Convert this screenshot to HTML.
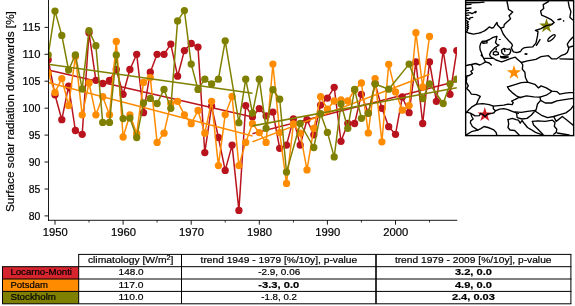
<!DOCTYPE html>
<html><head><meta charset="utf-8"><title>Surface solar radiation</title>
<style>
html,body{margin:0;padding:0;background:#fff;}
svg{display:block;font-family:"Liberation Sans",sans-serif;will-change:transform;}
</style></head><body>
<svg width="575" height="306" viewBox="0 0 575 306">
<rect x="0" y="0" width="575" height="306" fill="#fff"/>
<defs><clipPath id="pa"><rect x="48.5" y="0" width="408.5" height="220.3"/></clipPath>
<clipPath id="mp"><rect x="466" y="1" width="107.5" height="134.5"/></clipPath></defs>
<g clip-path="url(#pa)">
<polyline points="48.2,59.7 55.0,94.8 61.8,119.7 68.6,86.2 75.4,130.5 82.2,134.3 89.0,32.7 95.9,80.3 102.7,83.5 109.5,80.3 116.3,69.5 123.1,94.3 129.9,69.5 136.7,54.3 143.5,112.7 150.3,72.2 157.1,54.3 164.0,54.3 170.8,44.1 177.6,76.2 184.4,50.6 191.2,43.5 198.0,47.1 204.8,152.6 211.6,106.2 218.4,137.5 225.2,170.4 232.1,145.1 238.9,210.4 245.7,105.6 252.5,117.0 259.3,108.6 266.1,115.9 272.9,112.1 279.7,148.3 286.5,145.1 293.4,118.9 300.2,145.1 307.0,119.7 313.8,134.8 320.6,105.1 327.4,98.1 334.2,87.3 341.0,141.3 347.8,123.5 354.6,123.5 361.4,94.3 368.3,113.2 375.1,83.5 381.9,108.3 388.7,126.7 395.5,134.3 402.3,97.0 409.1,112.7 415.9,61.9 422.7,123.5 429.5,61.9 436.4,101.3 443.2,50.6 450.0,94.3 456.8,50.6" fill="none" stroke="#b9141d" stroke-width="1.5" stroke-linejoin="round"/>
<g fill="#b9141d"><circle cx="48.2" cy="59.7" r="3.65"/><circle cx="55.0" cy="94.8" r="3.65"/><circle cx="61.8" cy="119.7" r="3.65"/><circle cx="68.6" cy="86.2" r="3.65"/><circle cx="75.4" cy="130.5" r="3.65"/><circle cx="82.2" cy="134.3" r="3.65"/><circle cx="89.0" cy="32.7" r="3.65"/><circle cx="95.9" cy="80.3" r="3.65"/><circle cx="102.7" cy="83.5" r="3.65"/><circle cx="109.5" cy="80.3" r="3.65"/><circle cx="116.3" cy="69.5" r="3.65"/><circle cx="123.1" cy="94.3" r="3.65"/><circle cx="129.9" cy="69.5" r="3.65"/><circle cx="136.7" cy="54.3" r="3.65"/><circle cx="143.5" cy="112.7" r="3.65"/><circle cx="150.3" cy="72.2" r="3.65"/><circle cx="157.1" cy="54.3" r="3.65"/><circle cx="164.0" cy="54.3" r="3.65"/><circle cx="170.8" cy="44.1" r="3.65"/><circle cx="177.6" cy="76.2" r="3.65"/><circle cx="184.4" cy="50.6" r="3.65"/><circle cx="191.2" cy="43.5" r="3.65"/><circle cx="198.0" cy="47.1" r="3.65"/><circle cx="204.8" cy="152.6" r="3.65"/><circle cx="211.6" cy="106.2" r="3.65"/><circle cx="218.4" cy="137.5" r="3.65"/><circle cx="225.2" cy="170.4" r="3.65"/><circle cx="232.1" cy="145.1" r="3.65"/><circle cx="238.9" cy="210.4" r="3.65"/><circle cx="245.7" cy="105.6" r="3.65"/><circle cx="252.5" cy="117.0" r="3.65"/><circle cx="259.3" cy="108.6" r="3.65"/><circle cx="266.1" cy="115.9" r="3.65"/><circle cx="272.9" cy="112.1" r="3.65"/><circle cx="279.7" cy="148.3" r="3.65"/><circle cx="286.5" cy="145.1" r="3.65"/><circle cx="293.4" cy="118.9" r="3.65"/><circle cx="300.2" cy="145.1" r="3.65"/><circle cx="307.0" cy="119.7" r="3.65"/><circle cx="313.8" cy="134.8" r="3.65"/><circle cx="320.6" cy="105.1" r="3.65"/><circle cx="327.4" cy="98.1" r="3.65"/><circle cx="334.2" cy="87.3" r="3.65"/><circle cx="341.0" cy="141.3" r="3.65"/><circle cx="347.8" cy="123.5" r="3.65"/><circle cx="354.6" cy="123.5" r="3.65"/><circle cx="361.4" cy="94.3" r="3.65"/><circle cx="368.3" cy="113.2" r="3.65"/><circle cx="375.1" cy="83.5" r="3.65"/><circle cx="381.9" cy="108.3" r="3.65"/><circle cx="388.7" cy="126.7" r="3.65"/><circle cx="395.5" cy="134.3" r="3.65"/><circle cx="402.3" cy="97.0" r="3.65"/><circle cx="409.1" cy="112.7" r="3.65"/><circle cx="415.9" cy="61.9" r="3.65"/><circle cx="422.7" cy="123.5" r="3.65"/><circle cx="429.5" cy="61.9" r="3.65"/><circle cx="436.4" cy="101.3" r="3.65"/><circle cx="443.2" cy="50.6" r="3.65"/><circle cx="450.0" cy="94.3" r="3.65"/><circle cx="456.8" cy="50.6" r="3.65"/></g>
<line x1="48.2" y1="70.0" x2="252.5" y2="117.0" stroke="#b9141d" stroke-width="1.5"/>
<line x1="252.5" y1="133.7" x2="456.8" y2="81.3" stroke="#b9141d" stroke-width="1.5"/>
<polyline points="48.2,73.2 55.0,92.4 61.8,78.6 68.6,105.6 75.4,56.5 82.2,114.8 89.0,83.0 95.9,114.8 102.7,96.7 109.5,114.8 116.3,41.4 123.1,137.0 129.9,114.8 136.7,133.7 143.5,82.4 150.3,77.6 157.1,142.4 164.0,133.2 170.8,103.5 177.6,101.3 184.4,114.8 191.2,123.7 198.0,110.5 204.8,133.2 211.6,101.3 218.4,165.6 225.2,114.6 232.1,96.5 238.9,165.6 245.7,142.4 252.5,123.7 259.3,132.6 266.1,142.4 272.9,64.1 279.7,132.6 286.5,183.4 293.4,124.0 300.2,133.2 307.0,169.9 313.8,128.3 320.6,96.7 327.4,109.2 334.2,101.0 341.0,100.0 347.8,101.0 354.6,90.0 361.4,83.0 368.3,132.9 375.1,78.6 381.9,141.8 388.7,64.3 395.5,91.9 402.3,110.2 409.1,105.6 415.9,32.7 422.7,87.0 429.5,36.5" fill="none" stroke="#ff8c00" stroke-width="1.5" stroke-linejoin="round"/>
<g fill="#ff8c00"><circle cx="48.2" cy="73.2" r="3.65"/><circle cx="55.0" cy="92.4" r="3.65"/><circle cx="61.8" cy="78.6" r="3.65"/><circle cx="68.6" cy="105.6" r="3.65"/><circle cx="75.4" cy="56.5" r="3.65"/><circle cx="82.2" cy="114.8" r="3.65"/><circle cx="89.0" cy="83.0" r="3.65"/><circle cx="95.9" cy="114.8" r="3.65"/><circle cx="102.7" cy="96.7" r="3.65"/><circle cx="109.5" cy="114.8" r="3.65"/><circle cx="116.3" cy="41.4" r="3.65"/><circle cx="123.1" cy="137.0" r="3.65"/><circle cx="129.9" cy="114.8" r="3.65"/><circle cx="136.7" cy="133.7" r="3.65"/><circle cx="143.5" cy="82.4" r="3.65"/><circle cx="150.3" cy="77.6" r="3.65"/><circle cx="157.1" cy="142.4" r="3.65"/><circle cx="164.0" cy="133.2" r="3.65"/><circle cx="170.8" cy="103.5" r="3.65"/><circle cx="177.6" cy="101.3" r="3.65"/><circle cx="184.4" cy="114.8" r="3.65"/><circle cx="191.2" cy="123.7" r="3.65"/><circle cx="198.0" cy="110.5" r="3.65"/><circle cx="204.8" cy="133.2" r="3.65"/><circle cx="211.6" cy="101.3" r="3.65"/><circle cx="218.4" cy="165.6" r="3.65"/><circle cx="225.2" cy="114.6" r="3.65"/><circle cx="232.1" cy="96.5" r="3.65"/><circle cx="238.9" cy="165.6" r="3.65"/><circle cx="245.7" cy="142.4" r="3.65"/><circle cx="252.5" cy="123.7" r="3.65"/><circle cx="259.3" cy="132.6" r="3.65"/><circle cx="266.1" cy="142.4" r="3.65"/><circle cx="272.9" cy="64.1" r="3.65"/><circle cx="279.7" cy="132.6" r="3.65"/><circle cx="286.5" cy="183.4" r="3.65"/><circle cx="293.4" cy="124.0" r="3.65"/><circle cx="300.2" cy="133.2" r="3.65"/><circle cx="307.0" cy="169.9" r="3.65"/><circle cx="313.8" cy="128.3" r="3.65"/><circle cx="320.6" cy="96.7" r="3.65"/><circle cx="327.4" cy="109.2" r="3.65"/><circle cx="334.2" cy="101.0" r="3.65"/><circle cx="341.0" cy="100.0" r="3.65"/><circle cx="347.8" cy="101.0" r="3.65"/><circle cx="354.6" cy="90.0" r="3.65"/><circle cx="361.4" cy="83.0" r="3.65"/><circle cx="368.3" cy="132.9" r="3.65"/><circle cx="375.1" cy="78.6" r="3.65"/><circle cx="381.9" cy="141.8" r="3.65"/><circle cx="388.7" cy="64.3" r="3.65"/><circle cx="395.5" cy="91.9" r="3.65"/><circle cx="402.3" cy="110.2" r="3.65"/><circle cx="409.1" cy="105.6" r="3.65"/><circle cx="415.9" cy="32.7" r="3.65"/><circle cx="422.7" cy="87.0" r="3.65"/><circle cx="429.5" cy="36.5" r="3.65"/></g>
<line x1="48.2" y1="82.4" x2="252.5" y2="135.9" stroke="#ff8c00" stroke-width="1.5"/>
<line x1="252.5" y1="141.8" x2="429.5" y2="74.3" stroke="#ff8c00" stroke-width="1.5"/>
<polyline points="48.2,54.9 55.0,11.1 61.8,35.4 68.6,70.0 75.4,54.9 82.2,88.9 89.0,30.6 95.9,45.7 102.7,122.4 109.5,122.4 116.3,54.9 123.1,118.6 129.9,118.1 136.7,137.5 143.5,102.9 150.3,98.4 157.1,103.5 164.0,89.4 170.8,108.3 177.6,20.9 184.4,10.6 191.2,64.1 198.0,89.4 204.8,79.2 211.6,84.0 218.4,79.2 225.2,40.8 238.9,122.7 245.7,79.2 252.5,113.2 259.3,79.2 266.1,128.3 272.9,89.7 279.7,99.2 286.5,172.1 300.2,123.5 313.8,147.5 320.6,113.7 327.4,132.4 334.2,156.9 341.0,103.8 347.8,128.3 354.6,89.4 361.4,118.3 368.3,113.2 375.1,84.0 388.7,89.2 409.1,64.1 422.7,98.6 429.5,83.8 443.2,103.5 450.0,84.0 456.8,79.2" fill="none" stroke="#808000" stroke-width="1.5" stroke-linejoin="round"/>
<g fill="#808000"><circle cx="48.2" cy="54.9" r="3.65"/><circle cx="55.0" cy="11.1" r="3.65"/><circle cx="61.8" cy="35.4" r="3.65"/><circle cx="68.6" cy="70.0" r="3.65"/><circle cx="75.4" cy="54.9" r="3.65"/><circle cx="82.2" cy="88.9" r="3.65"/><circle cx="89.0" cy="30.6" r="3.65"/><circle cx="95.9" cy="45.7" r="3.65"/><circle cx="102.7" cy="122.4" r="3.65"/><circle cx="109.5" cy="122.4" r="3.65"/><circle cx="116.3" cy="54.9" r="3.65"/><circle cx="123.1" cy="118.6" r="3.65"/><circle cx="129.9" cy="118.1" r="3.65"/><circle cx="136.7" cy="137.5" r="3.65"/><circle cx="143.5" cy="102.9" r="3.65"/><circle cx="150.3" cy="98.4" r="3.65"/><circle cx="157.1" cy="103.5" r="3.65"/><circle cx="164.0" cy="89.4" r="3.65"/><circle cx="170.8" cy="108.3" r="3.65"/><circle cx="177.6" cy="20.9" r="3.65"/><circle cx="184.4" cy="10.6" r="3.65"/><circle cx="191.2" cy="64.1" r="3.65"/><circle cx="198.0" cy="89.4" r="3.65"/><circle cx="204.8" cy="79.2" r="3.65"/><circle cx="211.6" cy="84.0" r="3.65"/><circle cx="218.4" cy="79.2" r="3.65"/><circle cx="225.2" cy="40.8" r="3.65"/><circle cx="238.9" cy="122.7" r="3.65"/><circle cx="245.7" cy="79.2" r="3.65"/><circle cx="252.5" cy="113.2" r="3.65"/><circle cx="259.3" cy="79.2" r="3.65"/><circle cx="266.1" cy="128.3" r="3.65"/><circle cx="272.9" cy="89.7" r="3.65"/><circle cx="279.7" cy="99.2" r="3.65"/><circle cx="286.5" cy="172.1" r="3.65"/><circle cx="300.2" cy="123.5" r="3.65"/><circle cx="313.8" cy="147.5" r="3.65"/><circle cx="320.6" cy="113.7" r="3.65"/><circle cx="327.4" cy="132.4" r="3.65"/><circle cx="334.2" cy="156.9" r="3.65"/><circle cx="341.0" cy="103.8" r="3.65"/><circle cx="347.8" cy="128.3" r="3.65"/><circle cx="354.6" cy="89.4" r="3.65"/><circle cx="361.4" cy="118.3" r="3.65"/><circle cx="368.3" cy="113.2" r="3.65"/><circle cx="375.1" cy="84.0" r="3.65"/><circle cx="388.7" cy="89.2" r="3.65"/><circle cx="409.1" cy="64.1" r="3.65"/><circle cx="422.7" cy="98.6" r="3.65"/><circle cx="429.5" cy="83.8" r="3.65"/><circle cx="443.2" cy="103.5" r="3.65"/><circle cx="450.0" cy="84.0" r="3.65"/><circle cx="456.8" cy="79.2" r="3.65"/></g>
<line x1="48.2" y1="64.3" x2="252.5" y2="93.2" stroke="#808000" stroke-width="1.5"/>
<line x1="252.5" y1="125.9" x2="456.8" y2="87.8" stroke="#808000" stroke-width="1.5"/>
</g>
<g stroke="#000" stroke-width="0.9" fill="none">
<line x1="48.5" y1="0" x2="48.5" y2="220.8"/>
<line x1="48.0" y1="220.3" x2="457.3" y2="220.3"/>
<line x1="44.5" y1="215.9" x2="48.5" y2="215.9"/>
<line x1="44.5" y1="189.0" x2="48.5" y2="189.0"/>
<line x1="44.5" y1="162.0" x2="48.5" y2="162.0"/>
<line x1="44.5" y1="135.1" x2="48.5" y2="135.1"/>
<line x1="44.5" y1="108.2" x2="48.5" y2="108.2"/>
<line x1="44.5" y1="81.2" x2="48.5" y2="81.2"/>
<line x1="44.5" y1="54.3" x2="48.5" y2="54.3"/>
<line x1="44.5" y1="27.4" x2="48.5" y2="27.4"/>
<line x1="55.0" y1="220.3" x2="55.0" y2="224.7"/>
<line x1="123.1" y1="220.3" x2="123.1" y2="224.7"/>
<line x1="191.2" y1="220.3" x2="191.2" y2="224.7"/>
<line x1="259.3" y1="220.3" x2="259.3" y2="224.7"/>
<line x1="327.4" y1="220.3" x2="327.4" y2="224.7"/>
<line x1="395.5" y1="220.3" x2="395.5" y2="224.7"/>
<line x1="89.0" y1="220.3" x2="89.0" y2="222.5" stroke-width="0.8"/>
<line x1="157.1" y1="220.3" x2="157.1" y2="222.5" stroke-width="0.8"/>
<line x1="225.2" y1="220.3" x2="225.2" y2="222.5" stroke-width="0.8"/>
<line x1="293.4" y1="220.3" x2="293.4" y2="222.5" stroke-width="0.8"/>
<line x1="361.4" y1="220.3" x2="361.4" y2="222.5" stroke-width="0.8"/>
<line x1="429.5" y1="220.3" x2="429.5" y2="222.5" stroke-width="0.8"/>
</g>
<g font-size="10.8" fill="#000" stroke="#000" stroke-width="0.2">
<text x="40.4" y="219.9" text-anchor="end" textLength="11.6" lengthAdjust="spacingAndGlyphs">80</text>
<text x="40.4" y="193.0" text-anchor="end" textLength="11.6" lengthAdjust="spacingAndGlyphs">85</text>
<text x="40.4" y="166.0" text-anchor="end" textLength="11.6" lengthAdjust="spacingAndGlyphs">90</text>
<text x="40.4" y="139.1" text-anchor="end" textLength="11.6" lengthAdjust="spacingAndGlyphs">95</text>
<text x="40.4" y="112.2" text-anchor="end" textLength="17.8" lengthAdjust="spacingAndGlyphs">100</text>
<text x="40.4" y="85.2" text-anchor="end" textLength="17.8" lengthAdjust="spacingAndGlyphs">105</text>
<text x="40.4" y="58.3" text-anchor="end" textLength="17.8" lengthAdjust="spacingAndGlyphs">110</text>
<text x="40.4" y="31.4" text-anchor="end" textLength="17.8" lengthAdjust="spacingAndGlyphs">115</text>
<text x="55.3" y="236.0" text-anchor="middle" textLength="25.0" lengthAdjust="spacingAndGlyphs">1950</text>
<text x="123.4" y="236.0" text-anchor="middle" textLength="25.0" lengthAdjust="spacingAndGlyphs">1960</text>
<text x="191.5" y="236.0" text-anchor="middle" textLength="25.0" lengthAdjust="spacingAndGlyphs">1970</text>
<text x="259.6" y="236.0" text-anchor="middle" textLength="25.0" lengthAdjust="spacingAndGlyphs">1980</text>
<text x="327.7" y="236.0" text-anchor="middle" textLength="25.0" lengthAdjust="spacingAndGlyphs">1990</text>
<text x="395.8" y="236.0" text-anchor="middle" textLength="25.0" lengthAdjust="spacingAndGlyphs">2000</text>
</g>
<text transform="translate(14.3,111.6) rotate(-90)" font-size="10.8" stroke="#000" stroke-width="0.2" text-anchor="middle" textLength="201" lengthAdjust="spacingAndGlyphs">Surface solar radiation downwards [%]</text>
<g clip-path="url(#mp)">
<polygon points="546.5,18.3 548.2,23.6 553.8,23.6 549.3,26.9 551.0,32.2 546.5,28.9 542.0,32.2 543.7,26.9 539.2,23.6 544.8,23.6" fill="#808000"/>
<polygon points="514.0,65.0 515.7,70.3 521.2,70.3 516.8,73.5 518.5,78.7 514.0,75.5 509.5,78.7 511.2,73.5 506.8,70.3 512.3,70.3" fill="#ff8c00"/>
<polygon points="484.8,107.1 486.5,112.4 492.1,112.4 487.6,115.7 489.3,121.0 484.8,117.7 480.3,121.0 482.0,115.7 477.5,112.4 483.1,112.4" fill="#cf1b25"/>
<g fill="none" stroke="#000" stroke-width="1.35" stroke-linejoin="round" stroke-linecap="round">
<polyline points="466.4,20.5 468.3,21.9 466.9,23 468.3,24.4 466.9,25.5 468.6,26.6 466.9,27.5 468.3,28.4 466.9,29.5 467.5,30.6 466.4,31.9"/>
<polyline points="466,2.7 472,2.7 479,2.6 484,2.2"/>
<polyline points="466.4,4.6 471,4.3"/>
<polyline points="466.4,8.5 471,8"/>
<polyline points="466.4,13.2 470,12.6 472,13.6 474,12.6 476,11.4"/>
<polyline points="466.4,17.9 469.6,19.5 470,17.8 472.6,17.4"/>
<polyline points="466.4,10.6 468.5,10.4"/>
<polyline points="466.4,15.4 468.8,15.2"/>
<polyline points="466.4,31.9 468.5,33 473.5,34.1 478.7,33.2 481,32.5 484.9,30.6 487.5,28.6 489.3,26.9 491.7,28.1 493.6,27.5 495.4,24.6 497,22.5 497.5,25 500.7,28.2 501.5,30 503.2,34 505.7,37.4 508.7,40.8 511.7,43.8 512.5,45.5 511.3,47.6 512.1,49.7 513.4,51.8 516.9,52.6 520.5,51.5 522,49.2 524,47.8 526.5,47.3 532.8,46.8 535.9,43.1 536.4,41.1 537.5,35.9 538,31.7 535.4,30.5 541,28.7 546.3,25.6 551.6,24.6 554.2,22.5 551.6,19.9 546.3,17.2 541.6,15.2 540.6,11 543.7,8.4 543.2,4.7 548.4,1.6"/>
<polyline points="500.7,28.2 503.8,27.2 504.3,24.6 507,22 510.6,18.8 509,15.7 512.7,12 508.5,9.4 508,6.3 507,1.5"/>
<polyline points="496.8,36.5 493,37.4 489.6,39.5 486.2,40.8 482.4,41.2 480.7,43.3 479.8,46.7 480.2,50.1 481.5,53.1 482.4,56.1 483.6,58.2 484.5,60 485.5,61.9 482.9,63.5 479.8,65 475.6,63.5 471.4,64.5 468.3,65 466.2,65.6"/>
<polyline points="496.8,36.5 496.4,39.1 495.5,42.5 497.2,44.6 498.9,45 497.2,46.3 495.1,47.6 493,49.7 490.9,51.8 489.6,54.4 490.4,56.5 491.8,57.5 493.3,58.3 496,60 498.6,60.9 501.7,61.9 505.9,60.4 511,58.3 515.3,57.2 517.4,59.3 521.3,62.5 527.5,60.9 535.9,59.3 541,56.7 548.4,55.7 551.6,58.8 556.8,58.8 561,55.7 565.2,54.1 567.3,52.5 568.8,48.4 567.3,44.2 569.3,41 572.5,37.5 574,37"/>
<polyline points="484.5,58.3 493.3,58.3"/>
<polyline points="485.5,61.9 489.2,63 491.3,65"/>
<polyline points="501.5,50.1 504,48.4 507.4,49.3 510,48.9 510.8,51 509.6,54 507.4,55.2 504,54.8 501.9,53.1 501.5,50.1"/>
<polyline points="500.6,56.3 504,56.6 508.3,57 505,58 501,57.6 500.6,56.3"/>
<polyline points="568.3,2 569.3,7.3 570.9,11.5 569.9,17.2 572.5,19.9 574,19.9"/>
<polyline points="560,58.8 574,59.3"/>
<polyline points="568.8,47.3 574,45.7"/>
<polyline points="521.3,62.5 522.8,65 522.3,69.1 524.9,72.3 525.4,77.5 527.5,81.7"/>
<polyline points="507.5,86.9 514.2,84.8 521.3,82.7 527.5,82.2 534.9,84.3 538.5,87.9 541.1,85.9 546.3,87.9 551.6,91.1 556.8,91.6 559.9,94.2 565.2,93.2 569.3,92.6 574,92.6"/>
<polyline points="507.5,86.9 509,89.5 512.2,92.6 516.3,95.8 520.2,97.5 526.5,95.8 533.8,96.8 540,97.2 546.3,95.2 550.5,92.5 551.6,91.1"/>
<polyline points="476.6,104.1 482.9,103.6 489.2,104.6 493.3,106.2 498.6,105.7 503.8,105.2 508,104.1 512.2,104.6 513.2,102.6 511.6,101 515.3,99.4 519,97.3 520.2,97.5"/>
<polyline points="471.4,64.5 472.4,66.6 473,69.8 470.9,71.3 472.4,73.4 469.3,75.5 466.7,76 466.7,78 466.2,82.2 468.3,85.8 466.7,88.4 469.3,91 471.4,94.2 476.6,94.7 480.3,96.3 478.2,100 476.6,104.1 472.4,106.6 468.3,110.3 466.2,112.9"/>
<polyline points="466.2,112.5 467,112.1 470.75,113.4 475.1,115.9 479.5,115.6 480.4,113.4 482.6,114.3 485.1,116.5 487.6,114 492,113.4 493.9,112.75 495.4,110.8 493.3,108.7 493.3,106.2"/>
<polyline points="470.75,113.4 471.7,116.5 473.2,119 470.7,120.9 470.4,122.8 472.4,126.5 475.6,128.6 477.7,130.1"/>
<polyline points="466.2,135 471.4,131.7 477.7,130.1 480.8,128.6 484,126.5 488.1,127.5 493.3,129.6 496,132.2 497,135.5"/>
<polyline points="495.4,110.8 499.6,109.2 503.8,108.7 508,109.7 512.2,111.3 516.3,112.9 518.4,113.4"/>
<polyline points="515,111.9 521.3,112.4 527.5,111.3 535.4,110.3"/>
<polyline points="540,97.2 540.6,100.4 537.5,104 536.4,108.7 535.4,111.3"/>
<polyline points="540.6,100.4 545.3,103 551.6,103 556.8,100.9 563,99.8 569.3,98.8 574,98.3"/>
<polyline points="535.4,111.3 541.5,115.3 547.6,117.7 553.7,116.5 559.8,114.7 565.9,112.9 570.8,109.2 574,105"/>
<polyline points="516.6,113.5 517.2,117.7 522,119 527,118.4 531.2,115.3 534.2,111.7"/>
<polyline points="508,119.6 512.3,118.4 516,119.6 518.4,120.2 520.2,123.2 522,120.5 524.5,123.8 527.5,127.5 530.6,129.3 535.5,132.4 540.3,134.2 544,135.5"/>
<polyline points="508,119.6 508.7,123.8 508,127.5 510,130 514.7,130.5 518.4,134.2 519.5,135.5"/>
<polyline points="532.4,121.4 533.6,125 537.9,129.3 542.8,134.2"/>
<polyline points="532.4,121.4 537.9,120.8 545.2,121.4 552.5,120.2 555,122.6 554.3,126.3 556.8,129.3 556.2,132.4 553.7,134.2"/>
<polyline points="553.7,116.5 556.2,121.4 562.3,116.5 567.1,120.2 571.4,123.8 574,126"/>
<polyline points="557.4,133 563,134 569,135"/>
<polygon points="482,42.2 487,41.2 487,42.9 483,43.3"/>
<polygon points="493.4,52.3 495.5,51.4 498.1,52.3 498.5,54.4 495.5,55.2 493.4,54.4"/>
<polyline points="504.3,48.6 504.8,51.5"/>
<ellipse cx="551.5" cy="38" rx="4.6" ry="1.5" transform="rotate(-40 551.5 38)"/>
<line x1="540" y1="39.6" x2="536.4" y2="45.3" stroke-width="1.4"/>
</g>
<g fill="#000">
<ellipse cx="526" cy="54.1" rx="1.7" ry="1"/>
<ellipse cx="559.4" cy="19.3" rx="2.3" ry="0.9" transform="rotate(-10 559.4 19.3)"/>
<circle cx="563.6" cy="20.9" r="0.8"/>
<ellipse cx="499.8" cy="39.5" rx="1.2" ry="0.6"/>
<ellipse cx="481.6" cy="55.2" rx="0.9" ry="1.2"/>
<ellipse cx="504.5" cy="57.1" rx="3" ry="0.8"/>
<ellipse cx="496.2" cy="49.2" rx="0.7" ry="1.6"/>
<circle cx="475.5" cy="12.3" r="1.1"/>
</g>
</g>
<rect x="465.65" y="0.7" width="108" height="134.9" fill="none" stroke="#000" stroke-width="1.4"/>
<rect x="2.5" y="266.7" width="76.2" height="12.3" fill="#d6252f"/>
<rect x="2.5" y="279.0" width="76.2" height="12.4" fill="#ff8c00"/>
<rect x="2.5" y="291.4" width="76.2" height="12.4" fill="#808000"/>
<g stroke="#000" stroke-width="1" fill="none">
<line x1="78.2" y1="254.4" x2="571.4" y2="254.4"/>
<line x1="2.0" y1="266.7" x2="571.4" y2="266.7"/>
<line x1="2.0" y1="279.0" x2="571.4" y2="279.0"/>
<line x1="2.0" y1="291.4" x2="571.4" y2="291.4"/>
<line x1="2.0" y1="303.8" x2="571.4" y2="303.8"/>
<line x1="2.5" y1="266.7" x2="2.5" y2="303.8"/>
<line x1="78.7" y1="254.4" x2="78.7" y2="303.8"/>
<line x1="181.5" y1="254.4" x2="181.5" y2="303.8"/>
<line x1="376.0" y1="254.4" x2="376.0" y2="303.8" stroke-width="1.6"/>
<line x1="570.9" y1="254.4" x2="570.9" y2="303.8"/>
</g>
<g font-size="9.5" fill="#000" stroke="#000" stroke-width="0.2">
<text x="130.7" y="263.0" text-anchor="middle" textLength="85.6" lengthAdjust="spacingAndGlyphs">climatology [W/m<tspan font-size="6.6" dy="-3.4">2</tspan><tspan dy="3.4">]</tspan></text>
<text x="278.9" y="263.0" text-anchor="middle" textLength="156.6" lengthAdjust="spacingAndGlyphs">trend 1949 - 1979 [%/10y], p-value</text>
<text x="473.2" y="263.0" text-anchor="middle" textLength="156.6" lengthAdjust="spacingAndGlyphs">trend 1979 - 2009 [%/10y], p-value</text>
<text x="10.4" y="275.3" text-anchor="start" textLength="61.6" lengthAdjust="spacingAndGlyphs">Locarno-Monti</text>
<text x="10.4" y="287.6" text-anchor="start" textLength="37.6" lengthAdjust="spacingAndGlyphs">Potsdam</text>
<text x="10.4" y="300.0" text-anchor="start" textLength="45.6" lengthAdjust="spacingAndGlyphs">Stockholm</text>
<text x="131.1" y="275.3" text-anchor="middle" textLength="25.0" lengthAdjust="spacingAndGlyphs">148.0</text>
<text x="131.1" y="287.6" text-anchor="middle" textLength="25.0" lengthAdjust="spacingAndGlyphs">117.0</text>
<text x="131.1" y="300.0" text-anchor="middle" textLength="25.0" lengthAdjust="spacingAndGlyphs">110.0</text>
<text x="279.2" y="275.3" text-anchor="middle" textLength="42.0" lengthAdjust="spacingAndGlyphs">-2.9, 0.06</text>
<text x="278.8" y="287.6" text-anchor="middle" textLength="41.0" lengthAdjust="spacingAndGlyphs" font-weight="bold">-3.3, 0.0</text>
<text x="279.1" y="300.0" text-anchor="middle" textLength="35.6" lengthAdjust="spacingAndGlyphs">-1.8, 0.2</text>
<text x="473.4" y="275.3" text-anchor="middle" textLength="37.0" lengthAdjust="spacingAndGlyphs" font-weight="bold">3.2, 0.0</text>
<text x="473.4" y="287.6" text-anchor="middle" textLength="37.0" lengthAdjust="spacingAndGlyphs" font-weight="bold">4.9, 0.0</text>
<text x="473.4" y="300.0" text-anchor="middle" textLength="43.0" lengthAdjust="spacingAndGlyphs" font-weight="bold">2.4, 0.03</text>
</g>
</svg>
</body></html>
